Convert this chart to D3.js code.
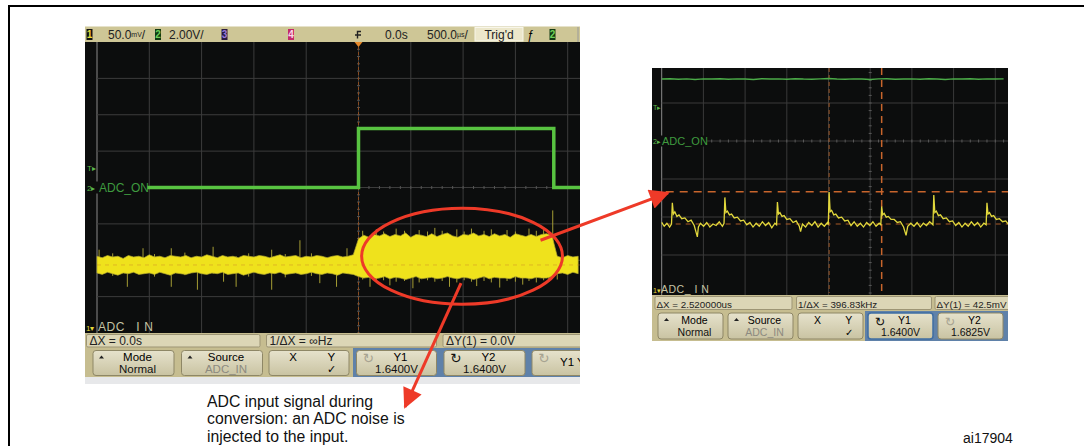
<!DOCTYPE html>
<html lang="en">
<head>
<meta charset="UTF-8">
<title>ADC input signal during conversion</title>
<script src="https://cdn.jsdelivr.net/npm/d3@7/dist/d3.min.js"></script>
<style>
  html, body { margin: 0; padding: 0; background: #fff; }
  svg { display: block; font-family: "Liberation Sans", Arial, sans-serif; }
</style>
</head>
<body>
<svg id="chart" width="1084" height="446"></svg>
<script>
// ---- left scope: 500us/div, ch1 50mV/div, ch2 2V/div (time in ms) ----
const leftGridT = [-2.5, -2, -1.5, -1, -0.5, 0, 0.5, 1, 1.5, 2, 2.5]
const leftGridDiv = [-3, -2, -1, 0, 1, 2, 3]
const leftGreenT = [-2.5, 0, 0, 1.867, 1.867, 2.3]
const leftGreenV = [0, 0, 3.25, 3.25, 0, 0]
// yellow envelope (mV around 1.64V), one value every 0.05 ms from -2.5 ms
const leftYellowUpper = [12, 10, 13, 11, 12, 9, 13, 11, 12, 10, 14, 11, 12, 10, 13, 12, 11, 13, 10, 12,
  11, 14, 12, 10, 13, 11, 12, 10, 13, 12, 11, 13, 12, 10, 12, 14, 11, 12, 13, 10,
  12, 11, 13, 12, 10, 12, 13, 11, 12, 14,
  36, 41, 38, 42, 40, 43, 39, 42, 40, 44, 38, 42, 41, 39, 43, 39, 42, 44, 40, 38,
  42, 41, 44, 40, 42, 39, 43, 40, 42, 38, 43, 41, 39, 42, 39, 42, 43, 40,
  12, 10, 13, 11, 12]
const leftYellowLower = [-11, -13, -10, -12, -14, -11, -12, -10, -13, -12, -11, -13, -10, -12, -14, -11, -12, -13, -11, -10,
  -12, -13, -11, -12, -10, -13, -12, -11, -14, -12, -10, -12, -13, -11, -12, -10, -13, -12, -11, -13,
  -12, -10, -12, -13, -11, -12, -14, -11, -12, -13,
  -16, -18, -17, -19, -18, -16, -19, -17, -18, -20, -18, -16, -19, -18, -17, -19, -18, -16, -18, -19,
  -17, -18, -20, -18, -16, -19, -17, -18, -18, -19, -16, -18, -18, -19, -17, -18, -18, -16,
  -12, -11, -13, -10, -12]
// glitches and hair: [time ms, top mV, bottom mV]
const leftSpikes = [[-2.48, 21, -12], [-2.21, 12, -30], [-2.06, 23, -12], [-1.79, 23, -30], [-1.54, 12, -34],
  [-1.39, 25, -12], [-1.29, 12, -23], [-1.17, 12, -30], [-0.83, 21, -34], [-0.56, 34, -12],
  [-0.37, 12, -25], [-0.21, 12, -30], [-0.11, 23, -12],
  [-2.35, 16, -15], [-1.95, 15, -16], [-1.66, 17, -14], [-1.05, 16, -16], [-0.7, 15, -17], [-0.45, 16, -15],
  [0.04, 47, -20], [0.11, 40, -30], [0.17, 49, -22], [0.24, 46, -21], [0.3, 40, -28], [0.36, 50, -23],
  [0.44, 47, -22], [0.52, 40, -32], [0.58, 48, -24], [0.66, 46, -21], [0.73, 51, -23], [0.8, 47, -22],
  [0.87, 40, -30], [0.94, 49, -24], [1.01, 46, -21], [1.08, 50, -23], [1.13, 40, -29], [1.2, 47, -22],
  [1.27, 49, -24], [1.35, 40, -31], [1.42, 48, -22], [1.5, 46, -23], [1.57, 40, -27], [1.63, 50, -22],
  [1.7, 47, -24], [1.77, 49, -21], [1.82, 46, -23],
  [1.857, 75, -12], [1.9, 12, -20]]

// ---- right scope: 2us/div, ch1 50mV/div (mV above Y1 = 1.64V), ch2 2V/div ----
const rightGridT = [0, 2, 4, 6, 8, 10, 12, 14, 16]
const rightGridV = [-6, -4, -2, 0, 2, 4, 6]
const rightGreenV = [3.26, 3.28, 3.25, 3.27, 3.24, 3.27, 3.26, 3.28, 3.25, 3.27, 3.26, 3.24, 3.28, 3.26,
  3.27, 3.25, 3.28, 3.26, 3.25, 3.27, 3.29, 3.26, 3.25, 3.27, 3.26, 3.24, 3.27, 3.28,
  3.25, 3.26, 3.27, 3.25, 3.28, 3.26, 3.24, 3.27, 3.26, 3.28, 3.25, 3.27, 3.26, 3.27]
const rightYellow = [[0, 2], [0.12, -3], [0.25, 1], [0.38, -4], [0.47, 0],
  [0.51, 28], [0.56, 13], [0.63, 16], [0.73, 10], [0.83, 12], [0.96, 7], [1.11, 8], [1.26, 3], [1.41, 5],
  [1.56, -2], [1.71, -17], [1.76, -4], [1.86, 1], [2.01, -3], [2.16, 2], [2.31, -4], [2.46, 0], [2.61, -2], [2.76, 3], [2.91, -3], [2.99, 1],
  [3.03, 35], [3.08, 15], [3.15, 17], [3.25, 12], [3.35, 13], [3.48, 8], [3.63, 9], [3.78, 4], [3.93, 5],
  [4.08, -1], [4.23, 2], [4.38, -4], [4.53, 1], [4.68, -3], [4.83, 3], [4.98, -2], [5.13, 2], [5.28, -5], [5.43, 1], [5.51, -1],
  [5.55, 29], [5.6, 13], [5.67, 15], [5.77, 10], [5.87, 11], [6.0, 6], [6.15, 7], [6.3, 2], [6.45, 4],
  [6.6, -3], [6.66, -10], [6.75, 0], [6.9, -4], [7.05, 2], [7.2, -2], [7.35, 3], [7.5, -4], [7.65, 1], [7.8, -3], [7.95, 2], [7.99, -1],
  [8.03, 42], [8.08, 16], [8.15, 18], [8.25, 12], [8.35, 13], [8.48, 8], [8.63, 9], [8.78, 4], [8.93, 5],
  [9.08, -2], [9.23, 3], [9.38, -3], [9.53, 1], [9.68, -4], [9.83, 2], [9.98, -2], [10.13, 3], [10.28, -3], [10.43, 1], [10.51, -1],
  [10.55, 23], [10.6, 12], [10.67, 14], [10.77, 9], [10.87, 10], [11.0, 6], [11.15, 6], [11.3, 2], [11.45, 3],
  [11.6, -4], [11.72, -15], [11.8, -3], [11.95, 1], [12.1, -3], [12.25, 2], [12.4, -4], [12.55, 1], [12.7, -2], [12.85, 3], [13.01, -1],
  [13.05, 38], [13.1, 15], [13.17, 17], [13.27, 11], [13.37, 12], [13.5, 7], [13.65, 8], [13.8, 3], [13.95, 4],
  [14.1, -2], [14.25, 2], [14.4, -4], [14.55, 1], [14.7, -3], [14.85, 3], [15.0, -2], [15.15, 2], [15.3, -4], [15.45, 1], [15.56, -1],
  [15.6, 28], [15.65, 13], [15.72, 15], [15.82, 10], [15.92, 11], [16.05, 6], [16.2, 7], [16.35, 3], [16.5, 4], [16.65, -1]]
const rightCursorsT = [8.03, 10.55]
const rightCursorsMV = [0, 42.5]

// ---- texts ----
const leftHeader = ['50.0', 'mV', '2.00V/', '0.0s', '500.0', 'µs', "Trig'd"]
const leftReadout = ['ΔX = 0.0s', '1/ΔX = ∞Hz', 'ΔY(1) = 0.0V']
const rightReadout = ['ΔX = 2.520000us', '1/ΔX = 396.83kHz', 'ΔY(1) = 42.5mV']
const leftSoftkeys = [['Mode', 'Normal'], ['Source', 'ADC_IN'], ['X', 'Y'], ['Y1', '1.6400V'], ['Y2', '1.6400V'], ['Y1 Y', '']]
const rightSoftkeys = [['Mode', 'Normal'], ['Source', 'ADC_IN'], ['X', 'Y'], ['Y1', '1.6400V'], ['Y2', '1.6825V']]
const noteLines = ['ADC input signal during', 'conversion: an ADC noise is', 'injected to the input.']
const figureId = 'ai17904'

// annotation geometry in left-scope units (ms, mV) and right-scope units (us, mV)
const ellipseCenter = [0.99, 12]
const ellipseHalf = [0.96, 66]
const arrowRightFrom = [1.74, 34]
const arrowRightTo = [0.3, 41]
const arrowDownFrom = [0.98, -25]
const arrowDownTo = [0.445, -195]

const svg = d3.select('#chart')
const defs = svg.append('defs')
const clip = (id, x, y, w, h) => defs.append('clipPath').attr('id', id)
  .append('rect').attr('x', x).attr('y', y).attr('width', w).attr('height', h)
clip('clipL', 86, 42, 494, 291)
clip('clipLP', 85, 26, 495, 360)
clip('clipR', 652, 68, 356, 227)
clip('clipRP', 652, 68, 356, 274)

defs.append('marker').attr('id', 'ah')
  .attr('viewBox', '0 0 10 10').attr('refX', 9).attr('refY', 5)
  .attr('markerWidth', 24).attr('markerHeight', 20)
  .attr('markerUnits', 'userSpaceOnUse').attr('orient', 'auto')
  .append('path').attr('d', 'M0,0 L10,5 L0,10 z').attr('fill', '#ee3a28')

const lg = defs.append('linearGradient').attr('id', 'btn').attr('x1', 0).attr('y1', 0).attr('x2', 0).attr('y2', 1)
lg.append('stop').attr('offset', '0%').attr('stop-color', '#e6e2cc')
lg.append('stop').attr('offset', '100%').attr('stop-color', '#c9c3a2')

// scales
const xL = d3.scaleLinear().domain([-2.5, 2.5]).range([97, 620])
const yL = d3.scaleLinear().domain([-4, 4]).range([333, 42])
const ch1L = mv => yL(mv / 50 - 2.13)
const ch2L = v => yL(v / 2)
const xR = d3.scaleLinear().domain([0, 16]).range([661.7, 995.3])
const ch2R = d3.scaleLinear().domain([0, 2]).range([141, 103])
const ch1R = d3.scaleLinear().domain([0, 42.5]).range([224, 191.7])

// title remnant (page is cropped) and frame
svg.append('text').attr('x', -22).attr('y', -3.5).attr('font-size', 15).attr('font-weight', 'bold')
  .text('Figure 14. ADC input signal during conversion, noise injected by the ADC sampling')
svg.append('rect').attr('x', 9).attr('y', 6).attr('width', 1100).attr('height', 500)
  .attr('fill', 'none').attr('stroke', '#000').attr('stroke-width', 2)

function chanBox(g, x, y, digit, bg, fg) {
  g.append('rect').attr('x', x).attr('y', y).attr('width', 6).attr('height', 11).attr('fill', bg)
  g.append('text').attr('x', x + 3).attr('y', y + 9).attr('text-anchor', 'middle')
    .attr('font-size', 10).attr('font-weight', 'bold').attr('fill', fg).text(digit)
}

function softkey(g, x, y, w, h, lines, opt) {
  const fs = opt.fs
  g.append('rect').attr('x', x).attr('y', y).attr('width', w).attr('height', h)
    .attr('rx', 3).attr('fill', 'url(#btn)').attr('stroke', opt.sel ? '#3f6da3' : '#8e8766').attr('stroke-width', opt.sel ? 1.5 : 1)
  const cx = x + w / 2
  const b1 = y + h * 0.42, b2 = y + h * 0.9
  if (opt.kind === 'xy') {
    g.append('text').attr('x', x + w * 0.3).attr('y', b1).attr('text-anchor', 'middle').attr('font-size', fs).text(lines[0])
    g.append('text').attr('x', x + w * 0.78).attr('y', b1).attr('text-anchor', 'middle').attr('font-size', fs).text(lines[1])
    g.append('text').attr('x', x + w * 0.78).attr('y', b2).attr('text-anchor', 'middle').attr('font-size', fs - 1).text('✓')
    return
  }
  if (opt.kind === 'menu') {
    g.append('path').attr('d', `M${x + 6},${y + 8} l2.5,-3 l2.5,3 z`).attr('fill', '#222')
  }
  if (opt.kind === 'knob') {
    g.append('text').attr('x', x + 12).attr('y', y + h * 0.5).attr('text-anchor', 'middle')
      .attr('font-family', 'DejaVu Sans').attr('font-size', fs + 2).attr('fill', opt.knobOn ? '#111' : '#a7a391').text('↻')
  }
  if (lines[1] === '') {
    g.append('text').attr('x', x + 28).attr('y', y + h * 0.62).attr('font-size', fs).text(lines[0])
    return
  }
  g.append('text').attr('x', cx + 4).attr('y', b1).attr('text-anchor', 'middle').attr('font-size', fs).text(lines[0])
  g.append('text').attr('x', cx + (opt.kind === 'knob' ? 0 : 4)).attr('y', b2).attr('text-anchor', 'middle')
    .attr('font-size', fs).attr('fill', opt.dim ? '#8c8a80' : '#111').text(lines[1])
}

// ================= left scope =================
const gL = svg.append('g').attr('clip-path', 'url(#clipLP)')
gL.append('rect').attr('x', 85).attr('y', 26.5).attr('width', 495).attr('height', 15.5).attr('fill', '#cec696')
chanBox(gL, 86.5, 29, '1', '#111', '#e8dc3a')
gL.append('text').attr('x', 108).attr('y', 39).attr('font-size', 12).attr('fill', '#222')
  .call(t => { t.append('tspan').text(leftHeader[0]); t.append('tspan').attr('font-size', 7).attr('dy', -2).text(leftHeader[1]); t.append('tspan').attr('dy', 2).text('/') })
chanBox(gL, 155, 29, '2', '#123a12', '#6fd05a')
gL.append('text').attr('x', 169).attr('y', 39).attr('font-size', 12).attr('fill', '#222').text(leftHeader[2])
chanBox(gL, 221.5, 29, '3', '#2a1a40', '#9a7ad8')
chanBox(gL, 288, 29, '4', '#c42a6a', '#fbd8e8')
gL.append('path').attr('d', 'M361,31.5 h-3.5 v7 M355,35 h6').attr('stroke', '#222').attr('stroke-width', 1.4).attr('fill', 'none')
gL.append('text').attr('x', 385).attr('y', 39).attr('font-size', 12).attr('fill', '#222').text(leftHeader[3])
gL.append('text').attr('x', 427).attr('y', 39).attr('font-size', 12).attr('fill', '#222')
  .call(t => { t.append('tspan').text(leftHeader[4]); t.append('tspan').attr('font-size', 7).attr('dy', -2).text(leftHeader[5]); t.append('tspan').attr('dy', 2).text('/') })
gL.append('rect').attr('x', 475).attr('y', 27.5).attr('width', 48).attr('height', 13.5).attr('fill', '#ece7cb').attr('stroke', '#f8f6ea')
gL.append('text').attr('x', 499).attr('y', 39).attr('text-anchor', 'middle').attr('font-size', 12).attr('fill', '#222').text(leftHeader[6])
gL.append('text').attr('x', 530).attr('y', 39).attr('text-anchor', 'middle').attr('font-size', 12).attr('font-style', 'italic').text('ƒ')
chanBox(gL, 549.5, 29, '2', '#123a12', '#6fd05a')
gL.append('line').attr('x1', 578).attr('x2', 578).attr('y1', 27).attr('y2', 42).attr('stroke', '#9a9a9a')

// screen
gL.append('rect').attr('x', 85).attr('y', 42).attr('width', 495).attr('height', 291).attr('fill', '#0c0d0d')
const sL = gL.append('g').attr('clip-path', 'url(#clipL)')
sL.selectAll('line.vg').data(leftGridT).enter().append('line').attr('class', 'vg')
  .attr('x1', d => xL(d)).attr('x2', d => xL(d)).attr('y1', 42).attr('y2', 333)
  .attr('stroke', (d, i) => i === 0 ? '#8a8a8a' : '#3c3c3c').attr('stroke-width', 1)
sL.selectAll('line.hg').data(leftGridDiv).enter().append('line').attr('class', 'hg')
  .attr('x1', xL(-2.5)).attr('x2', 580).attr('y1', d => yL(d)).attr('y2', d => yL(d))
  .attr('stroke', '#3c3c3c').attr('stroke-width', 1)
// minor ticks on centre axes
sL.selectAll('line.mh').data(d3.range(-25, 26)).enter().append('line').attr('class', 'mh')
  .attr('x1', d => xL(d / 10)).attr('x2', d => xL(d / 10)).attr('y1', yL(0) - 1.5).attr('y2', yL(0) + 1.5)
  .attr('stroke', '#555')
sL.selectAll('line.mv').data(d3.range(-20, 21)).enter().append('line').attr('class', 'mv')
  .attr('y1', d => yL(d / 5)).attr('y2', d => yL(d / 5)).attr('x1', xL(0) - 1.5).attr('x2', xL(0) + 1.5)
  .attr('stroke', '#555')
sL.append('line').attr('x1', xL(0)).attr('x2', xL(0)).attr('y1', 42).attr('y2', 333)
  .attr('stroke', '#8a4d22').attr('stroke-dasharray', '3,2').attr('stroke-width', 1)

// yellow: hairs first, band on top
sL.selectAll('line.sp').data(leftSpikes).enter().append('line').attr('class', 'sp')
  .attr('x1', d => xL(d[0])).attr('x2', d => xL(d[0])).attr('y1', d => ch1L(d[1])).attr('y2', d => ch1L(d[2]))
  .attr('stroke', '#a59d34').attr('stroke-width', 1)
const leftIdx = d3.range(leftYellowUpper.length)
sL.append('path').datum(leftIdx)
  .attr('d', d3.area().x(i => xL(-2.5 + i * 0.05)).y0(i => ch1L(leftYellowLower[i])).y1(i => ch1L(leftYellowUpper[i])))
  .attr('fill', '#efe21c').attr('stroke', '#b3a92c').attr('stroke-width', 0.7)
sL.append('line').attr('x1', xL(-2.5)).attr('x2', 580).attr('y1', ch1L(0)).attr('y2', ch1L(0))
  .attr('stroke', '#c77a2a').attr('stroke-dasharray', '4,4').attr('stroke-width', 0.8).attr('opacity', 0.5)

// green ADC_ON
sL.append('path').datum(d3.range(leftGreenT.length))
  .attr('d', d3.line().x(i => xL(leftGreenT[i])).y(i => ch2L(leftGreenV[i])))
  .attr('fill', 'none').attr('stroke', '#58c341').attr('stroke-width', 3.5)
sL.append('path').attr('d', `M${xL(0) - 4},42 h8 l-4,5 z`).attr('fill', '#e8892a')

// channel labels
sL.append('rect').attr('x', 86).attr('y', ch2L(0) - 6).attr('width', 61).attr('height', 12).attr('fill', '#0c0d0d')
sL.append('text').attr('x', 87).attr('y', ch2L(0) + 3).attr('font-size', 8).attr('fill', '#5cb84a').text('2▸')
sL.append('text').attr('x', 99).attr('y', ch2L(0) + 4.5).attr('font-size', 12).attr('fill', '#3f9a3f').text('ADC_ON')
sL.append('text').attr('x', 87).attr('y', ch2L(0.9)).attr('font-size', 8).attr('fill', '#5cb84a').text('T▸')
sL.append('text').attr('x', 86).attr('y', 331).attr('font-size', 8).attr('fill', '#e4d63a').text('1▾')
sL.append('text').attr('x', 98).attr('y', 331).attr('font-size', 12).attr('fill', '#c6c3a4').attr('letter-spacing', 0.6).text('ADC_ I N')

// bottom panel
gL.append('rect').attr('x', 85).attr('y', 333).attr('width', 495).attr('height', 44).attr('fill', '#c6bd90')
gL.append('rect').attr('x', 353).attr('y', 348).attr('width', 227).attr('height', 29).attr('fill', '#5f81a9')
gL.append('rect').attr('x', 85).attr('y', 377).attr('width', 495).attr('height', 7).attr('fill', '#e7e8ea')
const lrBoxes = [[86.5, 173.5], [266.5, 170], [443, 150]]
lrBoxes.forEach((b, i) => {
  gL.append('rect').attr('x', b[0]).attr('y', 334.5).attr('width', b[1]).attr('height', 12.5)
    .attr('rx', 1.5).attr('fill', '#dcd6b6').attr('stroke', '#9d9575')
  gL.append('text').attr('x', b[0] + 3).attr('y', 345).attr('font-size', 12).attr('fill', '#222').text(leftReadout[i])
})
const lsBoxes = [[93, 81, 'menu'], [181.5, 81, 'menu'], [269, 80, 'xy'], [356.5, 80, 'knob'], [444, 81, 'knob'], [532, 80, 'knob']]
lsBoxes.forEach((b, i) => softkey(gL, b[0], 350.5, b[1], 25, leftSoftkeys[i],
  { fs: 11.5, kind: b[2], dim: i === 1, knobOn: i === 4, sel: false }))

// ================= right scope =================
const gR = svg.append('g').attr('clip-path', 'url(#clipRP)')
gR.append('rect').attr('x', 652).attr('y', 68).attr('width', 356).attr('height', 227).attr('fill', '#0c0d0d')
const sR = gR.append('g').attr('clip-path', 'url(#clipR)')
sR.selectAll('line.vg').data(rightGridT).enter().append('line').attr('class', 'vg')
  .attr('x1', d => xR(d)).attr('x2', d => xR(d)).attr('y1', 68).attr('y2', 295)
  .attr('stroke', (d, i) => i === 0 ? '#8a8a8a' : '#3a3a3a')
sR.selectAll('line.hg').data(rightGridV).enter().append('line').attr('class', 'hg')
  .attr('x1', xR(0)).attr('x2', 1008).attr('y1', d => ch2R(d)).attr('y2', d => ch2R(d))
  .attr('stroke', '#3a3a3a')
sR.selectAll('line.mh').data(d3.range(0, 85)).enter().append('line').attr('class', 'mh')
  .attr('x1', d => xR(d * 0.4)).attr('x2', d => xR(d * 0.4)).attr('y1', ch2R(0) - 1.5).attr('y2', ch2R(0) + 1.5)
  .attr('stroke', '#5a5a5a')
sR.selectAll('line.mv').data(d3.range(-20, 21)).enter().append('line').attr('class', 'mv')
  .attr('y1', d => ch2R(d * 0.4)).attr('y2', d => ch2R(d * 0.4)).attr('x1', xR(10) - 1.5).attr('x2', xR(10) + 1.5)
  .attr('stroke', '#5a5a5a')

// cursors
sR.selectAll('line.cx').data(rightCursorsT).enter().append('line').attr('class', 'cx')
  .attr('x1', d => xR(d)).attr('x2', d => xR(d)).attr('y1', 68).attr('y2', 293)
  .attr('stroke', (d, i) => i === 0 ? '#9a5424' : '#c8652c')
  .attr('stroke-width', (d, i) => i === 0 ? 1 : 1.5)
  .attr('stroke-dasharray', (d, i) => i === 0 ? '4,3' : '7,5')
sR.selectAll('line.cy').data(rightCursorsMV).enter().append('line').attr('class', 'cy')
  .attr('x1', xR(0) + 4).attr('x2', 1008).attr('y1', d => ch1R(d)).attr('y2', d => ch1R(d))
  .attr('stroke', (d, i) => i === 0 ? '#a85a26' : '#c8652c')
  .attr('stroke-width', (d, i) => i === 0 ? 1 : 1.4)
  .attr('stroke-dasharray', (d, i) => i === 0 ? '5,5' : '8,6')

sR.append('path').datum(rightYellow)
  .attr('d', d3.line().x(d => xR(d[0])).y(d => ch1R(d[1])))
  .attr('fill', 'none').attr('stroke', '#e2d83c').attr('stroke-width', 1.3)
sR.append('path').datum(d3.range(rightGreenV.length))
  .attr('d', d3.line().x(i => xR(i * 0.4)).y(i => ch2R(rightGreenV[i])))
  .attr('fill', 'none').attr('stroke', '#4bab48').attr('stroke-width', 1.4)

sR.append('rect').attr('x', 652).attr('y', ch2R(0) - 5.5).attr('width', 55).attr('height', 11).attr('fill', '#0c0d0d')
sR.append('text').attr('x', 653).attr('y', ch2R(0) + 3).attr('font-size', 7).attr('fill', '#5cb84a').text('2▸')
sR.append('text').attr('x', 662).attr('y', ch2R(0) + 4).attr('font-size', 11).attr('fill', '#3f9a3f').text('ADC_ON')
sR.append('text').attr('x', 653).attr('y', ch2R(1.65)).attr('font-size', 7).attr('fill', '#5cb84a').text('T▸')
sR.append('text').attr('x', 653).attr('y', 293).attr('font-size', 7).attr('fill', '#e4d63a').text('1▾')
sR.append('text').attr('x', 661).attr('y', 293).attr('font-size', 10.5).attr('fill', '#c6c3a4').attr('letter-spacing', 0.5).text('ADC_ I N')

gR.append('rect').attr('x', 652).attr('y', 295).attr('width', 356).attr('height', 46).attr('fill', '#c6bd90')
gR.append('rect').attr('x', 865).attr('y', 311).attr('width', 143).attr('height', 30).attr('fill', '#5f81a9')
const rrBoxes = [[655, 137], [796.5, 135], [935, 80]]
rrBoxes.forEach((b, i) => {
  gR.append('rect').attr('x', b[0]).attr('y', 296.5).attr('width', b[1]).attr('height', 13)
    .attr('rx', 1.5).attr('fill', '#dcd6b6').attr('stroke', '#9d9575')
  gR.append('text').attr('x', b[0] + 1.5).attr('y', 307.5).attr('font-size', 9.8).attr('fill', '#222').text(rightReadout[i])
})
const rsBoxes = [[658, 65, 'menu'], [728, 65, 'menu'], [798, 65, 'xy'], [868, 65, 'knob'], [938, 65, 'knob']]
rsBoxes.forEach((b, i) => softkey(gR, b[0], 313, b[1], 26, rightSoftkeys[i],
  { fs: 10.5, kind: b[2], dim: i === 1, knobOn: i === 3, sel: i === 3 }))

// ================= annotations =================
const ann = svg.append('g')
ann.append('ellipse')
  .attr('cx', xL(ellipseCenter[0])).attr('cy', ch1L(ellipseCenter[1]))
  .attr('rx', xL(ellipseCenter[0] + ellipseHalf[0]) - xL(ellipseCenter[0]))
  .attr('ry', ch1L(ellipseCenter[1] - ellipseHalf[1]) - ch1L(ellipseCenter[1]))
  .attr('fill', 'none').attr('stroke', '#ee3a28').attr('stroke-width', 3)
ann.append('line')
  .attr('x1', xL(arrowRightFrom[0])).attr('y1', ch1L(arrowRightFrom[1]))
  .attr('x2', xR(arrowRightTo[0])).attr('y2', ch1R(arrowRightTo[1]))
  .attr('stroke', '#ee3a28').attr('stroke-width', 3).attr('marker-end', 'url(#ah)')
ann.append('line')
  .attr('x1', xL(arrowDownFrom[0])).attr('y1', ch1L(arrowDownFrom[1]))
  .attr('x2', xL(arrowDownTo[0])).attr('y2', ch1L(arrowDownTo[1]))
  .attr('stroke', '#ee3a28').attr('stroke-width', 3).attr('marker-end', 'url(#ah)')

ann.selectAll('text.note').data(noteLines).enter().append('text').attr('class', 'note')
  .attr('x', 207).attr('y', (d, i) => 406.5 + i * 17.5)
  .attr('font-size', 15.8).attr('fill', '#111').text(d => d)
ann.append('text').attr('x', 963).attr('y', 443).attr('font-size', 14).attr('fill', '#111').text(figureId)
</script>
</body>
</html>
